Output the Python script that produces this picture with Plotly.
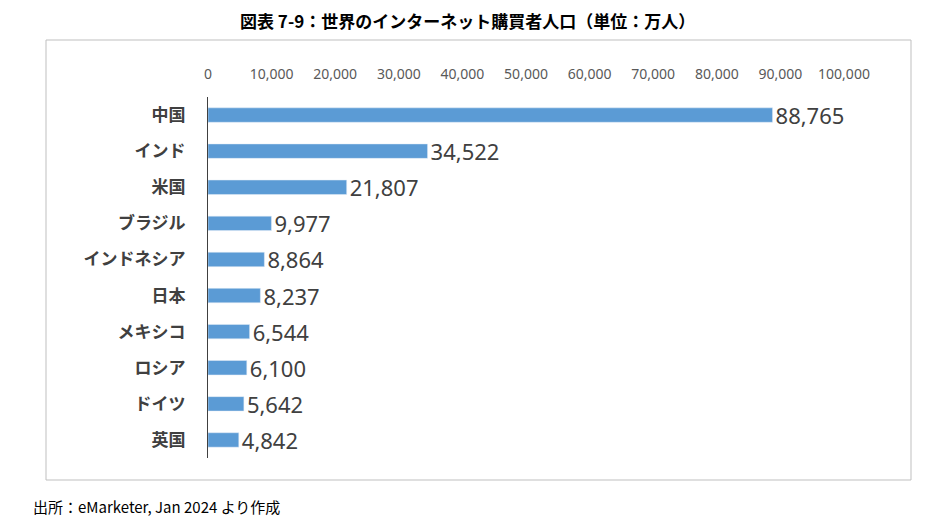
import plotly.graph_objects as go

countries = ["中国", "インド", "米国", "ブラジル", "インドネシア", "日本", "メキシコ", "ロシア", "ドイツ", "英国"]
buyers = [88765, 34522, 21807, 9977, 8864, 8237, 6544, 6100, 5642, 4842]
tick_vals = list(range(0, 100001, 10000))
tick_text = ["{:,}".format(v) for v in tick_vals]

W, H = 932, 527
DX, DY = 7, 8  # page body offset
L, R, T, B = 207 - DX, 89 + DX, 97 - DY, 69 + DY
pw, ph = W - L - R, H - T - B

def px(x):
    return (x - DX - L) / pw

def py(y):
    return 1 - (y - DY - T) / ph

fig = go.Figure()
fig.add_trace(go.Bar(
    x=buyers, y=countries, orientation="h", width=0.4,
    marker_color="#5B9BD5",
    text=["{:,}".format(v) for v in buyers], textposition="outside",
    constraintext="none",
    textfont=dict(size=22, color="#404040", family="Noto Sans"),
    cliponaxis=False,
))

fig.update_layout(
    width=W, height=H,
    margin=dict(l=L, r=R, t=T, b=B),
    paper_bgcolor="white", plot_bgcolor="white",
    showlegend=False,
    font=dict(family="Noto Sans CJK JP"),
    xaxis=dict(side="top", range=[0, 100000], tickvals=tick_vals, ticktext=tick_text,
               showgrid=False, zeroline=False, showline=False, ticks="",
               ticklabelstandoff=14,
               tickfont=dict(size=14, color="#595959", family="Noto Sans")),
    yaxis=dict(autorange="reversed", showgrid=False, showline=True, linecolor="#404040",
               linewidth=1, ticks="", ticklabelstandoff=18,
               tickfont=dict(size=17, color="#404040", family="Noto Sans CJK JP", weight="bold")),
)

# outer chart border
fig.add_shape(type="rect", xref="paper", yref="paper",
              x0=px(45), x1=px(910), y0=py(40), y1=py(480),
              line=dict(color="#BFBFBF", width=1))

fig.add_annotation(text="<b>図表 7-9：世界のインターネット購買者人口（単位：万人）</b>",
                   xref="paper", yref="paper", x=px(466), y=py(20), yanchor="middle",
                   showarrow=False, font=dict(size=17, color="black"))
fig.add_annotation(text="出所：eMarketer, Jan 2024 より作成",
                   xref="paper", yref="paper", x=px(30), y=py(506), xanchor="left",
                   yanchor="middle", showarrow=False, font=dict(size=15, color="black"))

fig.write_html("out.html")
